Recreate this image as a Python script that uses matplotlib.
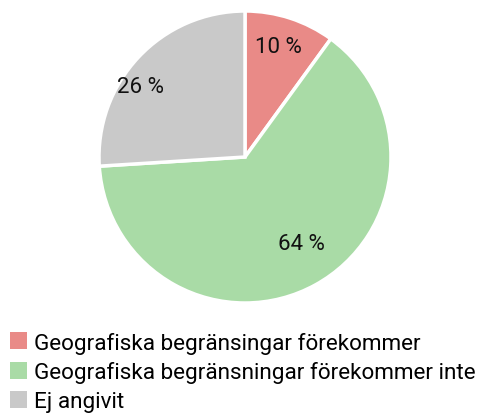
import matplotlib
matplotlib.use("Agg")
import numpy as np
import matplotlib.pyplot as plt
from matplotlib.patches import Patch

plt.rcParams['font.family'] = ['Roboto', 'DejaVu Sans']

# Data
categories = [
    'Geografiska begränsingar förekommer',
    'Geografiska begränsningar förekommer inte',
    'Ej angivit',
]
shares = [10, 64, 26]
colors = ['#e98a87', '#a9dba6', '#c9c9c9']

# label placement inside each slice (radius fraction, angle in degrees)
label_r = [0.79, 0.71, 0.86]
label_ang = [73, -57, 146]

W, H = 481, 414
fig = plt.figure(figsize=(W / 100, H / 100), dpi=100)

# pie centre ~ (245, 158) px, radius ~146 px
cx, cy, r = 245, 158, 146
ax = fig.add_axes([(cx - r) / W, (H - cy - r) / H, 2 * r / W, 2 * r / H])

wedges, texts, autotexts = ax.pie(
    shares, colors=colors, startangle=90, counterclock=False,
    autopct=lambda p: f'{p:.0f} %', pctdistance=0.78,
    wedgeprops=dict(edgecolor='white', linewidth=2.5),
    textprops=dict(fontsize=16, color='#111111'),
    radius=1.0,
)
for t, rr, a in zip(autotexts, label_r, label_ang):
    t.set_position((rr * np.cos(np.radians(a)), rr * np.sin(np.radians(a))))

ax.set_xlim(-1.0, 1.0)
ax.set_ylim(-1.0, 1.0)
ax.set_aspect('equal')

handles = [Patch(facecolor=c, edgecolor='none') for c in colors]
fig.legend(handles, categories, loc='upper left',
           bbox_to_anchor=(3 / W, (H - 326) / H),
           frameon=False, fontsize=16.2, handlelength=0.78, handleheight=0.78,
           handletextpad=0.28, labelspacing=0.33, borderaxespad=0.0,
           borderpad=0.3)

fig.savefig('out.png', dpi=100)
